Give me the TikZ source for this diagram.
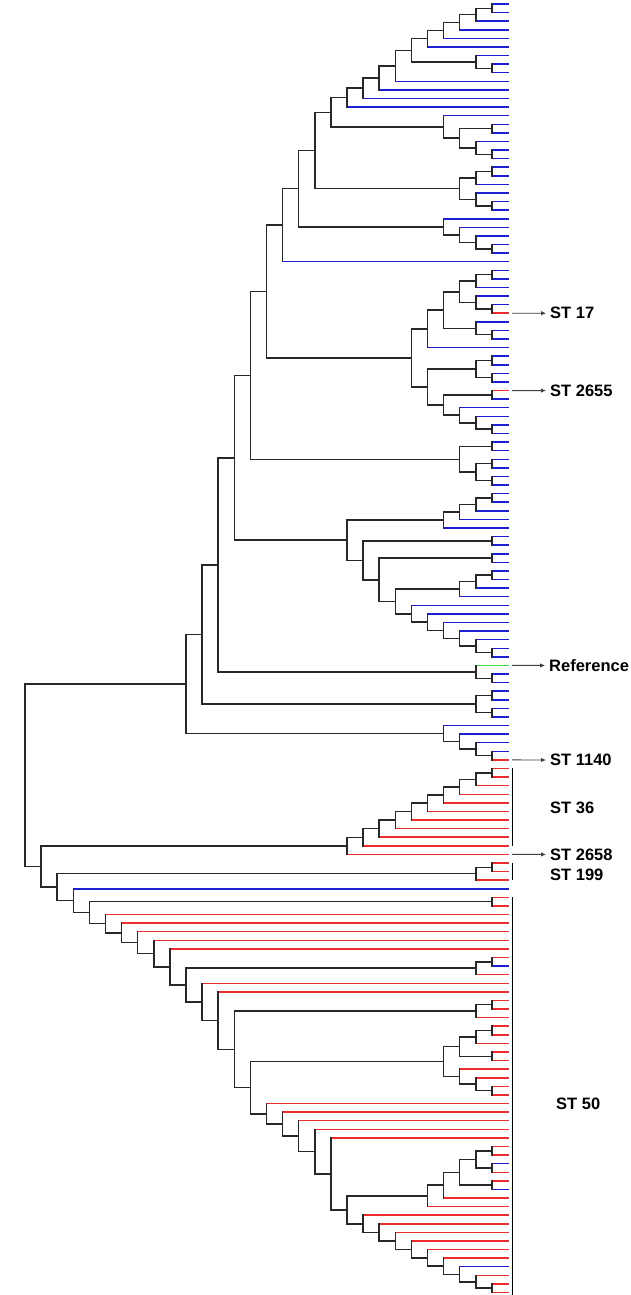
\documentclass[tikz,border=0pt]{standalone}
\usepackage{fontspec}
\setmainfont{Liberation Sans}
\usetikzlibrary{calc,arrows.meta}
\definecolor{cb}{RGB}{30,30,210}
\definecolor{cr}{RGB}{235,45,45}
\definecolor{cg}{RGB}{60,220,60}
\definecolor{ck}{RGB}{40,40,40}
\tikzset{
  br/.style={line width=1.5pt,line cap=rect},
  lb/.style={br,draw=cb},
  lr/.style={br,draw=cr},
  lg/.style={br,draw=cg},
  lk/.style={br,draw=ck},
  lab/.style={font=\fontsize{16.5}{18}\selectfont\bfseries,text=black,inner sep=2pt,anchor=west},
  arr/.style={draw=black!75,line width=0.9pt,-{Latex[length=5pt,width=4.5pt]}},
  stbar/.style={draw=black,line width=1.5pt}
}
% \clade{name}{height}{child1}{colour1}{child2}{colour2}
\newcommand\clade[6]{%
  \path let \p1=($(#3)!0.5!(#5)$) in ({(508-16.1*#2)*1pt},\y1) coordinate (#1);
  \draw[l#4] (#1 |- #3) -- (#3);
  \draw[l#6] (#1 |- #5) -- (#5);
  \draw[lk] (#1 |- #3) -- (#1 |- #5);
}
\begin{document}
\begin{tikzpicture}[x=1pt,y=-1pt]
\useasboundingbox (0,0) rectangle (630,1295);
\foreach \i in {0,...,150} {\coordinate (L\i) at (508,{4+8.59*\i});}
% ---- top clade
\clade{a1}{1}{L0}{b}{L1}{b}
\clade{a2}{2}{a1}{k}{L2}{b}
\clade{a3}{3}{a2}{k}{L3}{b}
\clade{a4}{4}{a3}{k}{L4}{b}
\clade{a5}{5}{a4}{k}{L5}{b}
\clade{b1}{1}{L7}{b}{L8}{b}
\clade{b2}{2}{L6}{b}{b1}{k}
\clade{a6}{6}{a5}{k}{b2}{k}
\clade{a7}{7}{a6}{k}{L9}{b}
\clade{a8}{8}{a7}{k}{L10}{b}
\clade{a9}{9}{a8}{k}{L11}{b}
\clade{a10}{10}{a9}{k}{L12}{b}
\clade{c1}{1}{L14}{b}{L15}{b}
\clade{c2}{1}{L17}{b}{L18}{b}
\clade{c3}{2}{L16}{b}{c2}{k}
\clade{c4}{3}{c1}{k}{c3}{k}
\clade{c5}{4}{L13}{b}{c4}{k}
\clade{n11}{11}{a10}{k}{c5}{k}
\clade{e1}{1}{L19}{b}{L20}{b}
\clade{e2}{2}{e1}{k}{L21}{b}
\clade{e3}{1}{L23}{b}{L24}{b}
\clade{e4}{2}{L22}{b}{e3}{k}
\clade{e5}{3}{e2}{k}{e4}{k}
\clade{n12}{12}{n11}{k}{e5}{k}
\clade{f1}{1}{L28}{b}{L29}{b}
\clade{f2}{2}{L27}{b}{f1}{k}
\clade{f3}{3}{L26}{b}{f2}{k}
\clade{f4}{4}{L25}{b}{f3}{k}
\clade{n13}{13}{n12}{k}{f4}{k}
\clade{n14}{14}{n13}{k}{L30}{b}
\clade{g1}{1}{L31}{b}{L32}{b}
\clade{g2}{2}{g1}{k}{L33}{b}
\clade{g3}{1}{L35}{b}{L36}{r}
\clade{g4}{2}{L34}{b}{g3}{k}
\clade{g5}{3}{g2}{k}{g4}{k}
\clade{g6}{1}{L38}{b}{L39}{b}
\clade{g7}{2}{L37}{b}{g6}{k}
\clade{g8}{4}{g5}{k}{g7}{k}
\clade{g9}{5}{g8}{k}{L40}{b}
\clade{g10}{1}{L41}{b}{L42}{b}
\clade{g11}{1}{L43}{b}{L44}{b}
\clade{g12}{2}{g10}{k}{g11}{k}
\clade{g13}{1}{L45}{r}{L46}{b}
\clade{g14}{1}{L49}{b}{L50}{b}
\clade{g15}{2}{L48}{b}{g14}{k}
\clade{g16}{3}{L47}{b}{g15}{k}
\clade{g17}{4}{g13}{k}{g16}{k}
\clade{g18}{5}{g12}{k}{g17}{k}
\clade{g19}{6}{g9}{k}{g18}{k}
\clade{n15}{15}{n14}{k}{g19}{k}
\clade{h1}{1}{L51}{b}{L52}{b}
\clade{h2}{1}{L53}{b}{L54}{b}
\clade{h3}{1}{L55}{b}{L56}{b}
\clade{h4}{2}{h2}{k}{h3}{k}
\clade{h5}{3}{h1}{k}{h4}{k}
\clade{n16}{16}{n15}{k}{h5}{k}
\clade{i1}{1}{L57}{b}{L58}{b}
\clade{i2}{2}{i1}{k}{L59}{b}
\clade{i3}{3}{i2}{k}{L60}{b}
\clade{i4}{4}{i3}{k}{L61}{b}
\clade{i5}{1}{L62}{b}{L63}{b}
\clade{i6}{1}{L64}{b}{L65}{b}
\clade{i7}{1}{L66}{b}{L67}{b}
\clade{i8}{2}{i7}{k}{L68}{b}
\clade{i9}{3}{i8}{k}{L69}{b}
\clade{i10}{1}{L75}{b}{L76}{b}
\clade{i11}{2}{L74}{b}{i10}{k}
\clade{i12}{3}{L73}{b}{i11}{k}
\clade{i13}{4}{L72}{b}{i12}{k}
\clade{i14}{5}{L71}{b}{i13}{k}
\clade{i15}{6}{L70}{b}{i14}{k}
\clade{i16}{7}{i9}{k}{i15}{k}
\clade{i17}{8}{i6}{k}{i16}{k}
\clade{i18}{9}{i5}{k}{i17}{k}
\clade{i19}{10}{i4}{k}{i18}{k}
\clade{n17}{17}{n16}{k}{i19}{k}
\clade{j1}{1}{L78}{b}{L79}{b}
\clade{j2}{2}{L77}{g}{j1}{k}
\clade{n18}{18}{n17}{k}{j2}{k}
\clade{k1}{1}{L80}{b}{L81}{b}
\clade{k2}{1}{L82}{b}{L83}{b}
\clade{k3}{2}{k1}{k}{k2}{k}
\clade{n19}{19}{n18}{k}{k3}{k}
\clade{m1}{1}{L87}{b}{L88}{r}
\clade{m2}{2}{L86}{b}{m1}{k}
\clade{m3}{3}{L85}{b}{m2}{k}
\clade{m4}{4}{L84}{b}{m3}{k}
\clade{n20}{20}{n19}{k}{m4}{k}
% ---- ST 36
\clade{s1}{1}{L89}{r}{L90}{r}
\clade{s2}{2}{s1}{k}{L91}{r}
\clade{s3}{3}{s2}{k}{L92}{r}
\clade{s4}{4}{s3}{k}{L93}{r}
\clade{s5}{5}{s4}{k}{L94}{r}
\clade{s6}{6}{s5}{k}{L95}{r}
\clade{s7}{7}{s6}{k}{L96}{r}
\clade{s8}{8}{s7}{k}{L97}{r}
\clade{s9}{9}{s8}{k}{L98}{r}
\clade{s10}{10}{s9}{k}{L99}{r}
% ---- ST 199
\clade{p1}{1}{L100}{r}{L101}{r}
\clade{p2}{2}{p1}{k}{L102}{r}
% ---- ST 50
\clade{q1}{1}{L104}{r}{L105}{r}
\clade{r1}{1}{L111}{r}{L112}{b}
\clade{r2}{2}{r1}{k}{L113}{r}
\clade{t1}{1}{L116}{r}{L117}{r}
\clade{t2}{2}{t1}{k}{L118}{r}
\clade{u1}{1}{L119}{r}{L120}{r}
\clade{u2}{2}{u1}{k}{L121}{r}
\clade{u3}{1}{L122}{r}{L123}{r}
\clade{u4}{3}{u2}{k}{u3}{k}
\clade{u5}{1}{L126}{r}{L127}{r}
\clade{u6}{2}{L125}{r}{u5}{k}
\clade{u7}{3}{L124}{r}{u6}{k}
\clade{u8}{4}{u4}{k}{u7}{k}
\clade{v1}{1}{L133}{r}{L134}{r}
\clade{v2}{1}{L135}{b}{L136}{r}
\clade{v3}{2}{v1}{k}{v2}{k}
\clade{v4}{1}{L137}{r}{L138}{b}
\clade{v5}{3}{v3}{k}{v4}{k}
\clade{v6}{4}{v5}{k}{L139}{r}
\clade{v7}{5}{v6}{k}{L140}{r}
\clade{w1}{1}{L149}{r}{L150}{r}
\clade{w2}{2}{L148}{r}{w1}{k}
\clade{w3}{3}{L147}{b}{w2}{k}
\clade{w4}{4}{L146}{r}{w3}{k}
\clade{w5}{5}{L145}{r}{w4}{k}
\clade{w6}{6}{L144}{r}{w5}{k}
\clade{w7}{7}{L143}{r}{w6}{k}
\clade{w8}{8}{L142}{r}{w7}{k}
\clade{w9}{9}{L141}{r}{w8}{k}
\clade{x10}{10}{v7}{k}{w9}{k}
\clade{x11}{11}{L132}{r}{x10}{k}
\clade{x12}{12}{L131}{r}{x11}{k}
\clade{x13}{13}{L130}{r}{x12}{k}
\clade{x14}{14}{L129}{r}{x13}{k}
\clade{x15}{15}{L128}{r}{x14}{k}
\clade{x16}{16}{u8}{k}{x15}{k}
\clade{x17}{17}{t2}{k}{x16}{k}
\clade{x18}{18}{L115}{r}{x17}{k}
\clade{x19}{19}{L114}{r}{x18}{k}
\clade{x20}{20}{r2}{k}{x19}{k}
\clade{x21}{21}{L110}{r}{x20}{k}
\clade{x22}{22}{L109}{r}{x21}{k}
\clade{x23}{23}{L108}{r}{x22}{k}
\clade{x24}{24}{L107}{r}{x23}{k}
\clade{x25}{25}{L106}{r}{x24}{k}
\clade{x26}{26}{q1}{k}{x25}{k}
\clade{x27}{27}{L103}{b}{x26}{k}
\clade{x28}{28}{p2}{k}{x27}{k}
\clade{x29}{29}{s10}{k}{x28}{k}
\clade{root}{30}{n20}{k}{x29}{k}
% ---- bars
\draw[stbar] ([xshift=4.5pt]L89) ++(0,-1) coordinate (b36a) -- ([xshift=4.5pt]L98);
\draw[stbar] ([xshift=4.5pt]L100) -- ([xshift=4.5pt]L102);
\draw[stbar] ([xshift=4.5pt]L104) -- ([xshift=4.5pt]L150) -- ++(0,2.5) coordinate (b50z);
% ---- labels
\node[lab] (st17) at (548,313.2) {ST 17};
\node[lab] (st2655) at (548,390.6) {ST 2655};
\node[lab] (ref) at (547,665.4) {Reference};
\node[lab] (st1140) at (548,760) {ST 1140};
\node[lab] (st36) at (548,808) {ST 36};
\node[lab] (st2658) at (548,854.4) {ST 2658};
\node[lab] (st199) at (548,874.5) {ST 199};
\node[lab] (st50) at (554,1103.5) {ST 50};
\draw[arr] ([xshift=4pt]L36) -- ([xshift=-2pt]st17.west);
\draw[arr] ([xshift=4pt]L45) -- ([xshift=-2pt]st2655.west);
\draw[arr] ([xshift=4pt]L77) -- ([xshift=-2pt]ref.west);
\draw[arr] ([xshift=4pt]L88) -- ([xshift=-2pt]st1140.west);
\draw[arr] ([xshift=4pt]L99) -- ([xshift=-2pt]st2658.west);
\end{tikzpicture}
\end{document}
